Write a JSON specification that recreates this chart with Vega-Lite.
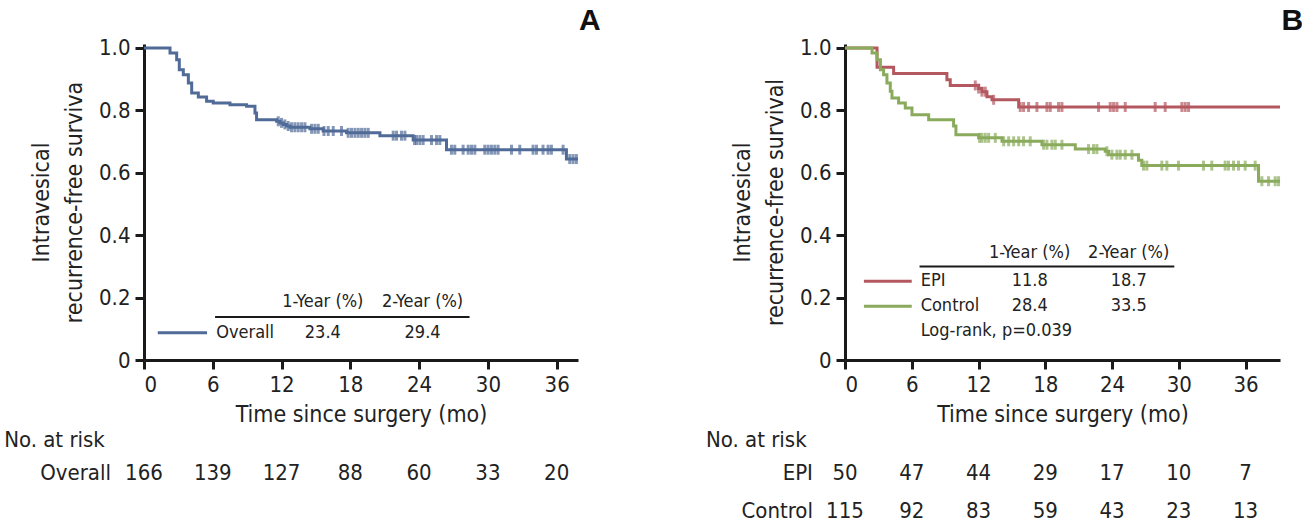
{
  "$schema": "https://vega.github.io/schema/vega-lite/v6.json",
  "background": "white",
  "padding": {"left": 4, "top": 6, "right": 4, "bottom": 4},
  "spacing": 104,
  "config": {
    "font": "DejaVu Sans Condensed, Roboto, sans-serif",
    "view": {"stroke": null},
    "axis": {
      "grid": false,
      "domainColor": "#1a1a1a", "domainWidth": 3,
      "tickColor": "#1a1a1a", "tickWidth": 3, "tickSize": 9,
      "labelFont": "DejaVu Sans Condensed, Roboto, sans-serif", "labelFontSize": 22, "labelColor": "#222222", "labelPadding": 5,
      "titleFont": "DejaVu Sans Condensed, Roboto, sans-serif", "titleFontSize": 23, "titleFontWeight": "normal", "titleColor": "#222222"
    },
    "text": {"font": "DejaVu Sans Condensed, Roboto, sans-serif", "color": "#222222"}
  },
  "datasets": {
    "kmA": [{"t":0,"s":1},{"t":2.27,"s":0.984},{"t":2.85,"s":0.962},{"t":3.08,"s":0.93},{"t":3.43,"s":0.914},{"t":3.87,"s":0.888},{"t":4.16,"s":0.856},{"t":4.74,"s":0.843},{"t":5.46,"s":0.829},{"t":6.04,"s":0.824},{"t":7.5,"s":0.818},{"t":8.95,"s":0.813},{"t":9.68,"s":0.792},{"t":9.82,"s":0.77},{"t":11.57,"s":0.765},{"t":11.86,"s":0.76},{"t":12.15,"s":0.755},{"t":12.44,"s":0.75},{"t":12.73,"s":0.746},{"t":14.47,"s":0.741},{"t":15.63,"s":0.734},{"t":17.67,"s":0.728},{"t":20.58,"s":0.719},{"t":23.48,"s":0.705},{"t":26.39,"s":0.674},{"t":36.85,"s":0.644},{"t":37.86,"s":0.644}],
    "censA": [{"t":11.71,"s":0.765},{"t":12.0,"s":0.76},{"t":12.29,"s":0.755},{"t":12.58,"s":0.75},{"t":12.87,"s":0.746},{"t":13.16,"s":0.746},{"t":13.45,"s":0.746},{"t":13.75,"s":0.746},{"t":14.04,"s":0.746},{"t":14.62,"s":0.741},{"t":14.91,"s":0.741},{"t":15.2,"s":0.741},{"t":15.7,"s":0.734},{"t":16.07,"s":0.734},{"t":16.51,"s":0.734},{"t":17.23,"s":0.734},{"t":17.81,"s":0.728},{"t":18.1,"s":0.728},{"t":18.4,"s":0.728},{"t":18.69,"s":0.728},{"t":18.98,"s":0.728},{"t":19.27,"s":0.728},{"t":19.56,"s":0.728},{"t":21.74,"s":0.719},{"t":22.03,"s":0.719},{"t":22.46,"s":0.719},{"t":22.76,"s":0.719},{"t":23.6,"s":0.705},{"t":23.77,"s":0.705},{"t":24.06,"s":0.705},{"t":24.35,"s":0.705},{"t":25.08,"s":0.705},{"t":25.52,"s":0.705},{"t":25.81,"s":0.705},{"t":26.82,"s":0.674},{"t":27.11,"s":0.674},{"t":27.84,"s":0.674},{"t":28.28,"s":0.674},{"t":28.57,"s":0.674},{"t":28.86,"s":0.674},{"t":29.73,"s":0.674},{"t":30.02,"s":0.674},{"t":30.31,"s":0.674},{"t":30.6,"s":0.674},{"t":30.89,"s":0.674},{"t":32.06,"s":0.674},{"t":32.78,"s":0.674},{"t":33.94,"s":0.674},{"t":34.24,"s":0.674},{"t":34.81,"s":0.674},{"t":35.25,"s":0.674},{"t":35.54,"s":0.674},{"t":36.56,"s":0.674},{"t":37.14,"s":0.644},{"t":37.43,"s":0.644},{"t":37.72,"s":0.644}],
    "kmB": [{"group":"EPI","t":0,"s":1},{"group":"EPI","t":2.88,"s":0.938},{"group":"EPI","t":4.37,"s":0.918},{"group":"EPI","t":9.16,"s":0.898},{"group":"EPI","t":9.46,"s":0.88},{"group":"EPI","t":12.01,"s":0.87},{"group":"EPI","t":12.31,"s":0.86},{"group":"EPI","t":12.76,"s":0.844},{"group":"EPI","t":13.21,"s":0.834},{"group":"EPI","t":15.61,"s":0.811},{"group":"EPI","t":39.1,"s":0.811},
      {"group":"Control","t":0,"s":1},{"group":"Control","t":2.43,"s":0.984},{"group":"Control","t":2.88,"s":0.962},{"group":"Control","t":3.18,"s":0.93},{"group":"Control","t":3.47,"s":0.914},{"group":"Control","t":3.77,"s":0.888},{"group":"Control","t":4.07,"s":0.861},{"group":"Control","t":4.22,"s":0.84},{"group":"Control","t":4.82,"s":0.824},{"group":"Control","t":5.42,"s":0.808},{"group":"Control","t":6.02,"s":0.786},{"group":"Control","t":7.52,"s":0.77},{"group":"Control","t":9.76,"s":0.75},{"group":"Control","t":9.97,"s":0.722},{"group":"Control","t":12.01,"s":0.712},{"group":"Control","t":14.11,"s":0.701},{"group":"Control","t":17.7,"s":0.69},{"group":"Control","t":20.7,"s":0.676},{"group":"Control","t":23.39,"s":0.669},{"group":"Control","t":23.69,"s":0.658},{"group":"Control","t":26.38,"s":0.64},{"group":"Control","t":26.68,"s":0.623},{"group":"Control","t":37.17,"s":0.573},{"group":"Control","t":39.1,"s":0.573}],
    "censB": [{"group":"EPI","t":11.71,"s":0.88},{"group":"EPI","t":12.01,"s":0.87},{"group":"EPI","t":12.31,"s":0.86},{"group":"EPI","t":12.61,"s":0.86},{"group":"EPI","t":13.36,"s":0.834},{"group":"EPI","t":15.75,"s":0.811},{"group":"EPI","t":16.05,"s":0.811},{"group":"EPI","t":16.5,"s":0.811},{"group":"EPI","t":17.25,"s":0.811},{"group":"EPI","t":18.15,"s":0.811},{"group":"EPI","t":18.45,"s":0.811},{"group":"EPI","t":19.2,"s":0.811},{"group":"EPI","t":19.5,"s":0.811},{"group":"EPI","t":22.79,"s":0.811},{"group":"EPI","t":23.84,"s":0.811},{"group":"EPI","t":24.14,"s":0.811},{"group":"EPI","t":24.44,"s":0.811},{"group":"EPI","t":25.19,"s":0.811},{"group":"EPI","t":27.88,"s":0.811},{"group":"EPI","t":28.78,"s":0.811},{"group":"EPI","t":30.28,"s":0.811},{"group":"EPI","t":30.58,"s":0.811},{"group":"EPI","t":30.88,"s":0.811},
      {"group":"Control","t":12.1,"s":0.712},{"group":"Control","t":12.31,"s":0.712},{"group":"Control","t":12.61,"s":0.712},{"group":"Control","t":12.91,"s":0.712},{"group":"Control","t":13.51,"s":0.712},{"group":"Control","t":14.26,"s":0.701},{"group":"Control","t":14.71,"s":0.701},{"group":"Control","t":15.16,"s":0.701},{"group":"Control","t":15.61,"s":0.701},{"group":"Control","t":16.05,"s":0.701},{"group":"Control","t":16.65,"s":0.701},{"group":"Control","t":17.85,"s":0.69},{"group":"Control","t":18.15,"s":0.69},{"group":"Control","t":18.6,"s":0.69},{"group":"Control","t":18.9,"s":0.69},{"group":"Control","t":19.5,"s":0.69},{"group":"Control","t":21.89,"s":0.676},{"group":"Control","t":22.34,"s":0.676},{"group":"Control","t":22.64,"s":0.676},{"group":"Control","t":23.54,"s":0.669},{"group":"Control","t":23.99,"s":0.658},{"group":"Control","t":24.44,"s":0.658},{"group":"Control","t":24.74,"s":0.658},{"group":"Control","t":25.19,"s":0.658},{"group":"Control","t":25.79,"s":0.658},{"group":"Control","t":26.83,"s":0.623},{"group":"Control","t":27.13,"s":0.623},{"group":"Control","t":28.48,"s":0.623},{"group":"Control","t":28.93,"s":0.623},{"group":"Control","t":29.98,"s":0.623},{"group":"Control","t":32.22,"s":0.623},{"group":"Control","t":32.97,"s":0.623},{"group":"Control","t":34.17,"s":0.623},{"group":"Control","t":34.47,"s":0.623},{"group":"Control","t":34.92,"s":0.623},{"group":"Control","t":35.37,"s":0.623},{"group":"Control","t":35.97,"s":0.623},{"group":"Control","t":36.87,"s":0.623},{"group":"Control","t":37.47,"s":0.573},{"group":"Control","t":38.07,"s":0.573},{"group":"Control","t":38.67,"s":0.573},{"group":"Control","t":38.97,"s":0.573}],
    "tableA": [{"row":"header","label":"","c1":"1-Year (%)","c2":"2-Year (%)"},{"row":"Overall","label":"Overall","c1":"23.4","c2":"29.4"}],
    "tableB": [{"row":"header","label":"","c1":"1-Year (%)","c2":"2-Year (%)"},{"row":"EPI","label":"EPI","c1":"11.8","c2":"18.7"},{"row":"Control","label":"Control","c1":"28.4","c2":"33.5"},{"row":"note","label":"Log-rank, p=0.039","c1":"","c2":""}],
    "riskA": [{"group":"Overall","t":0,"n":166},{"group":"Overall","t":6,"n":139},{"group":"Overall","t":12,"n":127},{"group":"Overall","t":18,"n":88},{"group":"Overall","t":24,"n":60},{"group":"Overall","t":30,"n":33},{"group":"Overall","t":36,"n":20}],
    "riskB": [{"group":"EPI","t":0,"n":50},{"group":"EPI","t":6,"n":47},{"group":"EPI","t":12,"n":44},{"group":"EPI","t":18,"n":29},{"group":"EPI","t":24,"n":17},{"group":"EPI","t":30,"n":10},{"group":"EPI","t":36,"n":7},
      {"group":"Control","t":0,"n":115},{"group":"Control","t":6,"n":92},{"group":"Control","t":12,"n":83},{"group":"Control","t":18,"n":59},{"group":"Control","t":24,"n":43},{"group":"Control","t":30,"n":23},{"group":"Control","t":36,"n":13}],
    "panels": [{"panel":"A"},{"panel":"B"}]
  },
  "hconcat": [
    {
      "width": 434, "height": 316,
      "layer": [
        {
          "data": {"name": "kmA"},
          "mark": {"type": "line", "interpolate": "step-after", "strokeWidth": 3, "color": "#506b98"},
          "encoding": {
            "x": {"field": "t", "type": "quantitative", "scale": {"domain": [0, 37.86], "nice": false, "zero": false},
                  "axis": {"values": [0,6,12,18,24,30,36], "format": "d", "title": "Time since surgery (mo)", "titlePadding": 8}},
            "y": {"field": "s", "type": "quantitative", "scale": {"domain": [0, 1.0128], "nice": false},
                  "axis": {"values": [0,0.2,0.4,0.6,0.8,1.0], "labelExpr": "datum.value === 0 ? '0' : format(datum.value, '.1f')",
                           "title": ["Intravesical", "recurrence-free surviva"], "titleLineHeight": 33, "titlePadding": 12}}
          }
        },
        {
          "data": {"name": "censA"},
          "mark": {"type": "tick", "orient": "vertical", "size": 10, "thickness": 3, "color": "#506b98"},
          "encoding": {"x": {"field": "t", "type": "quantitative"}, "y": {"field": "s", "type": "quantitative"}}
        },
        {
          "data": {"name": "tableA"},
          "transform": [{"filter": "datum.row === 'header'"}],
          "mark": {"type": "rule", "strokeWidth": 2, "color": "#1a1a1a"},
          "encoding": {"x": {"datum": 6.2}, "x2": {"datum": 28.4}, "y": {"datum": 0.138}}
        },
        {
          "data": {"name": "tableA"},
          "transform": [{"filter": "datum.row === 'header'"}],
          "mark": {"type": "text", "fontSize": 18, "align": "center", "baseline": "middle"},
          "encoding": {"x": {"datum": 15.6}, "y": {"datum": 0.186}, "text": {"field": "c1"}}
        },
        {
          "data": {"name": "tableA"},
          "transform": [{"filter": "datum.row === 'header'"}],
          "mark": {"type": "text", "fontSize": 18, "align": "center", "baseline": "middle"},
          "encoding": {"x": {"datum": 24.3}, "y": {"datum": 0.186}, "text": {"field": "c2"}}
        },
        {
          "data": {"name": "tableA"},
          "transform": [{"filter": "datum.row === 'Overall'"}],
          "mark": {"type": "rule", "strokeWidth": 3, "color": "#506b98"},
          "encoding": {"x": {"datum": 1.2}, "x2": {"datum": 5.5}, "y": {"datum": 0.087}}
        },
        {
          "data": {"name": "tableA"},
          "transform": [{"filter": "datum.row === 'Overall'"}],
          "mark": {"type": "text", "fontSize": 18, "align": "left", "baseline": "middle"},
          "encoding": {"x": {"datum": 6.3}, "y": {"datum": 0.087}, "text": {"field": "label"}}
        },
        {
          "data": {"name": "tableA"},
          "transform": [{"filter": "datum.row === 'Overall'"}],
          "mark": {"type": "text", "fontSize": 18, "align": "center", "baseline": "middle"},
          "encoding": {"x": {"datum": 15.6}, "y": {"datum": 0.087}, "text": {"field": "c1"}}
        },
        {
          "data": {"name": "tableA"},
          "transform": [{"filter": "datum.row === 'Overall'"}],
          "mark": {"type": "text", "fontSize": 18, "align": "center", "baseline": "middle"},
          "encoding": {"x": {"datum": 24.3}, "y": {"datum": 0.087}, "text": {"field": "c2"}}
        },
        {
          "data": {"name": "riskA"},
          "mark": {"type": "text", "fontSize": 22, "align": "center", "baseline": "middle"},
          "encoding": {"x": {"field": "t", "type": "quantitative"}, "y": {"datum": -0.362}, "text": {"field": "n"}}
        },
        {
          "data": {"name": "riskA"},
          "transform": [{"filter": "datum.t === 0"}],
          "mark": {"type": "text", "fontSize": 22, "align": "right", "baseline": "middle"},
          "encoding": {"x": {"datum": -2.88}, "y": {"datum": -0.362}, "text": {"field": "group"}}
        },
        {
          "data": {"name": "riskA"},
          "transform": [{"filter": "datum.t === 0"}],
          "mark": {"type": "text", "fontSize": 22, "align": "left", "baseline": "middle", "text": "No. at risk"},
          "encoding": {"x": {"datum": -12.2}, "y": {"datum": -0.256}}
        },
        {
          "data": {"name": "panels"},
          "transform": [{"filter": "datum.panel === 'A'"}],
          "mark": {"type": "text", "fontSize": 30, "fontWeight": "bold", "align": "center", "baseline": "middle", "font": "Liberation Sans", "color": "#111111"},
          "encoding": {"x": {"datum": 38.9}, "y": {"datum": 1.085}, "text": {"field": "panel"}}
        }
      ]
    },
    {
      "width": 435, "height": 316,
      "layer": [
        {
          "data": {"name": "kmB"},
          "mark": {"type": "line", "interpolate": "step-after", "strokeWidth": 3},
          "encoding": {
            "x": {"field": "t", "type": "quantitative", "scale": {"domain": [0, 39.1], "nice": false, "zero": false},
                  "axis": {"values": [0,6,12,18,24,30,36], "format": "d", "title": "Time since surgery (mo)", "titlePadding": 8}},
            "y": {"field": "s", "type": "quantitative", "scale": {"domain": [0, 1.0128], "nice": false},
                  "axis": {"values": [0,0.2,0.4,0.6,0.8,1.0], "labelExpr": "datum.value === 0 ? '0' : format(datum.value, '.1f')",
                           "title": ["Intravesical", "recurrence-free survival"], "titleLineHeight": 33, "titlePadding": 12}},
            "color": {"field": "group", "type": "nominal", "scale": {"domain": ["EPI", "Control"], "range": ["#b4585f", "#8aab5c"]}, "legend": null}
          }
        },
        {
          "data": {"name": "censB"},
          "mark": {"type": "tick", "orient": "vertical", "size": 10, "thickness": 3},
          "encoding": {"x": {"field": "t", "type": "quantitative"}, "y": {"field": "s", "type": "quantitative"},
                       "color": {"field": "group", "type": "nominal", "legend": null}}
        },
        {
          "data": {"name": "tableB"},
          "transform": [{"filter": "datum.row === 'header'"}],
          "mark": {"type": "rule", "strokeWidth": 2, "color": "#1a1a1a"},
          "encoding": {"x": {"datum": 6.7}, "x2": {"datum": 29.6}, "y": {"datum": 0.3}}
        },
        {
          "data": {"name": "tableB"},
          "transform": [{"filter": "datum.row === 'header'"}],
          "mark": {"type": "text", "fontSize": 18, "align": "center", "baseline": "middle"},
          "encoding": {"x": {"datum": 16.6}, "y": {"datum": 0.343}, "text": {"field": "c1"}}
        },
        {
          "data": {"name": "tableB"},
          "transform": [{"filter": "datum.row === 'header'"}],
          "mark": {"type": "text", "fontSize": 18, "align": "center", "baseline": "middle"},
          "encoding": {"x": {"datum": 25.5}, "y": {"datum": 0.343}, "text": {"field": "c2"}}
        },
        {
          "data": {"name": "tableB"},
          "transform": [{"filter": "datum.row === 'EPI'"}],
          "mark": {"type": "rule", "strokeWidth": 3, "color": "#b4585f"},
          "encoding": {"x": {"datum": 1.7}, "x2": {"datum": 6.0}, "y": {"datum": 0.252}}
        },
        {
          "data": {"name": "tableB"},
          "transform": [{"filter": "datum.row === 'Control'"}],
          "mark": {"type": "rule", "strokeWidth": 3, "color": "#8aab5c"},
          "encoding": {"x": {"datum": 1.7}, "x2": {"datum": 6.0}, "y": {"datum": 0.172}}
        },
        {
          "data": {"name": "tableB"},
          "transform": [{"filter": "datum.row === 'EPI'"}],
          "mark": {"type": "text", "fontSize": 18, "align": "left", "baseline": "middle"},
          "encoding": {"x": {"datum": 6.8}, "y": {"datum": 0.252}, "text": {"field": "label"}}
        },
        {
          "data": {"name": "tableB"},
          "transform": [{"filter": "datum.row === 'EPI'"}],
          "mark": {"type": "text", "fontSize": 18, "align": "center", "baseline": "middle"},
          "encoding": {"x": {"datum": 16.6}, "y": {"datum": 0.252}, "text": {"field": "c1"}}
        },
        {
          "data": {"name": "tableB"},
          "transform": [{"filter": "datum.row === 'EPI'"}],
          "mark": {"type": "text", "fontSize": 18, "align": "center", "baseline": "middle"},
          "encoding": {"x": {"datum": 25.5}, "y": {"datum": 0.252}, "text": {"field": "c2"}}
        },
        {
          "data": {"name": "tableB"},
          "transform": [{"filter": "datum.row === 'Control'"}],
          "mark": {"type": "text", "fontSize": 18, "align": "left", "baseline": "middle"},
          "encoding": {"x": {"datum": 6.8}, "y": {"datum": 0.172}, "text": {"field": "label"}}
        },
        {
          "data": {"name": "tableB"},
          "transform": [{"filter": "datum.row === 'Control'"}],
          "mark": {"type": "text", "fontSize": 18, "align": "center", "baseline": "middle"},
          "encoding": {"x": {"datum": 16.6}, "y": {"datum": 0.172}, "text": {"field": "c1"}}
        },
        {
          "data": {"name": "tableB"},
          "transform": [{"filter": "datum.row === 'Control'"}],
          "mark": {"type": "text", "fontSize": 18, "align": "center", "baseline": "middle"},
          "encoding": {"x": {"datum": 25.5}, "y": {"datum": 0.172}, "text": {"field": "c2"}}
        },
        {
          "data": {"name": "tableB"},
          "transform": [{"filter": "datum.row === 'note'"}],
          "mark": {"type": "text", "fontSize": 18, "align": "left", "baseline": "middle"},
          "encoding": {"x": {"datum": 6.8}, "y": {"datum": 0.092}, "text": {"field": "label"}}
        },
        {
          "data": {"name": "riskB"},
          "transform": [{"filter": "datum.group === 'EPI'"}],
          "mark": {"type": "text", "fontSize": 22, "align": "center", "baseline": "middle"},
          "encoding": {"x": {"field": "t", "type": "quantitative"}, "y": {"datum": -0.362}, "text": {"field": "n"}}
        },
        {
          "data": {"name": "riskB"},
          "transform": [{"filter": "datum.group === 'Control'"}],
          "mark": {"type": "text", "fontSize": 22, "align": "center", "baseline": "middle"},
          "encoding": {"x": {"field": "t", "type": "quantitative"}, "y": {"datum": -0.484}, "text": {"field": "n"}}
        },
        {
          "data": {"name": "riskB"},
          "transform": [{"filter": "datum.t === 0 && datum.group === 'EPI'"}],
          "mark": {"type": "text", "fontSize": 22, "align": "right", "baseline": "middle"},
          "encoding": {"x": {"datum": -2.88}, "y": {"datum": -0.362}, "text": {"field": "group"}}
        },
        {
          "data": {"name": "riskB"},
          "transform": [{"filter": "datum.t === 0 && datum.group === 'Control'"}],
          "mark": {"type": "text", "fontSize": 22, "align": "right", "baseline": "middle"},
          "encoding": {"x": {"datum": -2.88}, "y": {"datum": -0.484}, "text": {"field": "group"}}
        },
        {
          "data": {"name": "riskB"},
          "transform": [{"filter": "datum.t === 0 && datum.group === 'EPI'"}],
          "mark": {"type": "text", "fontSize": 22, "align": "left", "baseline": "middle", "text": "No. at risk"},
          "encoding": {"x": {"datum": -12.5}, "y": {"datum": -0.256}}
        },
        {
          "data": {"name": "panels"},
          "transform": [{"filter": "datum.panel === 'B'"}],
          "mark": {"type": "text", "fontSize": 30, "fontWeight": "bold", "align": "center", "baseline": "middle", "font": "Liberation Sans", "color": "#111111"},
          "encoding": {"x": {"datum": 40.2}, "y": {"datum": 1.085}, "text": {"field": "panel"}}
        }
      ]
    }
  ]
}
